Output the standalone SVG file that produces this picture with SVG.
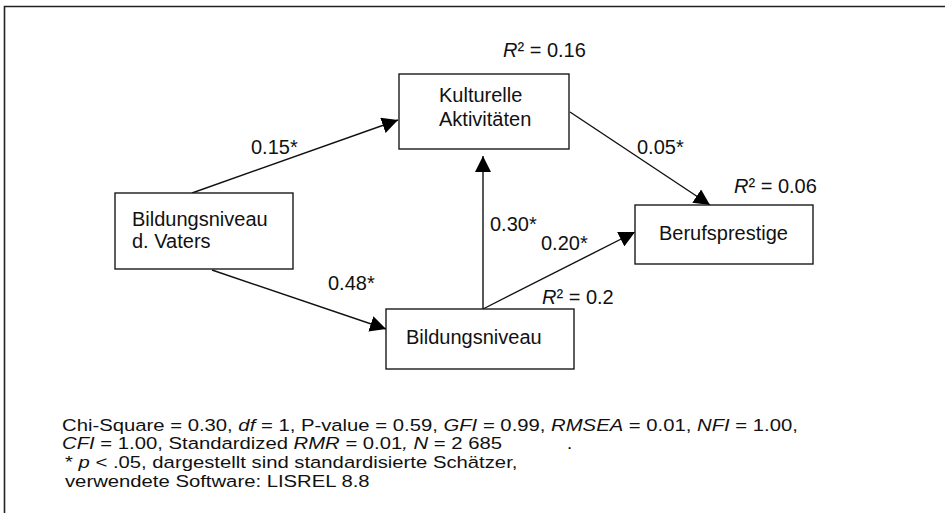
<svg xmlns="http://www.w3.org/2000/svg" width="945" height="513" viewBox="0 0 945 513">
<style>
  .box { fill: #ffffff; stroke: #1a1a1a; stroke-width: 1.4; }
  .lbl { font-family: "Liberation Sans", Arial, sans-serif; font-size: 20px; fill: #111111; }
  .note { font-family: "Liberation Sans", Arial, sans-serif; font-size: 17px; fill: #111111; }
  .edge { stroke: #111111; stroke-width: 1.4; fill: none; marker-end: url(#head); }
  .frame { stroke: #222222; stroke-width: 1.6; fill: none; }
</style>
<defs>
  <marker id="head" markerUnits="userSpaceOnUse" markerWidth="16" markerHeight="16" refX="16" refY="8" orient="auto" viewBox="0 0 16 16">
    <path d="M0,0 L16,8 L0,16 z" fill="#000000"/>
  </marker>
</defs>
<rect width="945" height="513" fill="#ffffff"/>
<path class="frame" d="M4.5,513 L4.5,6.5 L945,6.5"/>

<g id="connectors">
  <line class="edge" x1="192" y1="193" x2="398" y2="120"/>
  <line class="edge" x1="212" y1="270" x2="386" y2="329"/>
  <line class="edge" x1="483" y1="309" x2="483" y2="156"/>
  <line class="edge" x1="483" y1="309" x2="635" y2="232"/>
  <line class="edge" x1="570" y1="112" x2="710" y2="205"/>
</g>

<g id="node-kulturelle">
  <rect class="box" x="399" y="74" width="170" height="75"/>
  <text class="lbl" x="439" y="102">Kulturelle</text>
  <text class="lbl" x="439" y="126">Aktivitäten</text>
</g>
<g id="node-vater">
  <rect class="box" x="115" y="193" width="178" height="76"/>
  <text class="lbl" x="132" y="226">Bildungsniveau</text>
  <text class="lbl" x="132" y="248">d. Vaters</text>
</g>
<g id="node-bildung">
  <rect class="box" x="386" y="309" width="188" height="60"/>
  <text class="lbl" x="406" y="344">Bildungsniveau</text>
</g>
<g id="node-beruf">
  <rect class="box" x="635" y="205" width="178" height="59"/>
  <text class="lbl" x="659" y="240">Berufsprestige</text>
</g>

<g id="labels">
  <text class="lbl" x="503" y="57"><tspan font-style="italic">R</tspan>² = 0.16</text>
  <text class="lbl" x="734" y="193"><tspan font-style="italic">R</tspan>² = 0.06</text>
  <text class="lbl" x="542" y="304"><tspan font-style="italic">R</tspan>² = 0.2</text>
  <text class="lbl" x="251" y="154">0.15*</text>
  <text class="lbl" x="328" y="290">0.48*</text>
  <text class="lbl" x="490" y="231">0.30*</text>
  <text class="lbl" x="541" y="250">0.20*</text>
  <text class="lbl" x="637" y="154">0.05*</text>
</g>

<g id="footnote" transform="translate(62,0) scale(1.193,1)">
  <text class="note" x="0" y="431">Chi-Square = 0.30, <tspan font-style="italic">df</tspan> = 1, P-value = 0.59, <tspan font-style="italic">GFI</tspan> = 0.99, <tspan font-style="italic">RMSEA</tspan> = 0.01, <tspan font-style="italic">NFI</tspan> = 1.00,</text>
  <text class="note" x="0" y="449"><tspan font-style="italic">CFI</tspan> = 1.00, Standardized <tspan font-style="italic">RMR</tspan> = 0.01<tspan font-style="italic">,</tspan> <tspan font-style="italic">N</tspan> = 2 685</text>
  <text class="note" x="423" y="449">.</text>
  <text class="note" x="2.5" y="468">* <tspan font-style="italic">p</tspan> &lt; .05, dargestellt sind standardisierte Schätzer,</text>
  <text class="note" x="2.5" y="487">verwendete Software: LISREL 8.8</text>
</g>
</svg>
